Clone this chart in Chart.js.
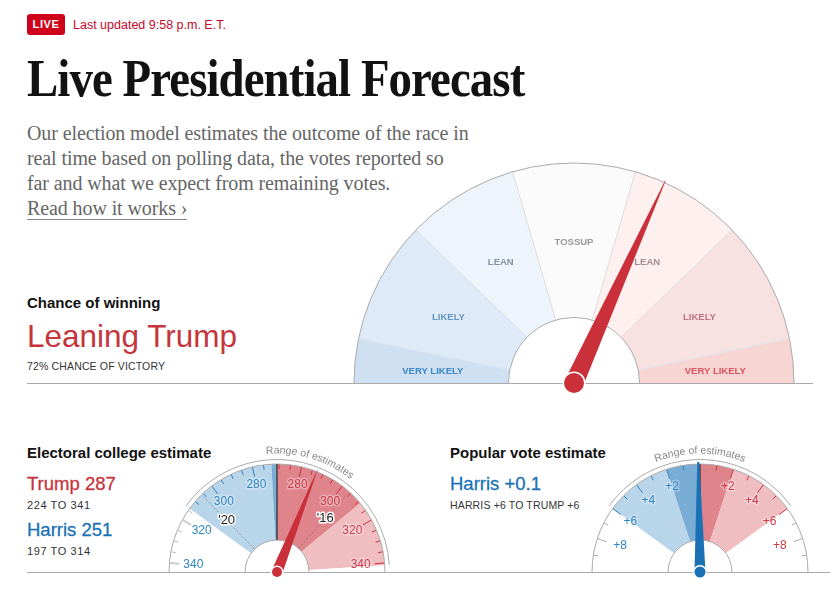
<!DOCTYPE html>
<html lang="en">
<head>
<meta charset="UTF-8">
<title>Live Presidential Forecast</title>
<script src="https://cdn.jsdelivr.net/npm/chart.js"></script>
<style>
    body { margin: 0; background: #fff; width: 830px; height: 604px; position: relative; overflow: hidden; font-family: 'Liberation Sans', sans-serif; }
    .t { position: absolute; white-space: nowrap; }
    canvas { position: absolute; }
    .rule { position: absolute; height: 1px; background: #aaa; }
    .badge { left: 27px; top: 14px; width: 38px; height: 21px; border-radius: 3px; background: #d0021b; color: #fff; font: bold 11px/21px 'Liberation Sans'; text-align: center; letter-spacing: .6px; }
    .updated { left: 73px; top: 17px; font-size: 12.5px; line-height: 16px; color: #c4082a; }
    h1 { margin: 0; left: 27px; top: 49px; font: bold 52px/60px 'Liberation Serif', serif; color: #121212; letter-spacing: -1px; transform: scaleX(.9); transform-origin: left center; }
    .intro { left: 27px; font: 20px/25px 'Liberation Serif', serif; color: #666; letter-spacing: -.1px; }
    .intro a { color: #666; text-decoration: none; border-bottom: 1px solid #888; }
    h2 { margin: 0; font: bold 15px/20px 'Liberation Sans'; color: #121212; }
    .big { left: 27px; font-size: 31.5px; line-height: 38px; color: #c4353c; }
    .mid { font-size: 18.5px; line-height: 24px; -webkit-text-stroke: .3px currentColor; }
    .small { font-size: 10.5px; line-height: 14px; color: #333; letter-spacing: .15px; }
    .nums { letter-spacing: .6px; font-size: 11px; }
    .red { color: #c4353c; }
    .blue { color: #1a72b5; }
</style>
</head>
<body>
<div class="t badge">LIVE</div>
<div class="t updated">Last updated 9:58 p.m. E.T.</div>
<h1 class="t">Live Presidential Forecast</h1>
<div class="t intro" style="top:121px">Our election model estimates the outcome of the race in</div>
<div class="t intro" style="top:146px">real time based on polling data, the votes reported so</div>
<div class="t intro" style="top:171px">far and what we expect from remaining votes.</div>
<div class="t intro" style="top:196px"><a>Read how it works ›</a></div>

<h2 class="t" style="left:27px;top:293px">Chance of winning</h2>
<div class="t big" style="top:317px">Leaning Trump</div>
<div class="t small" style="left:27px;top:359px">72% CHANCE OF VICTORY</div>
<div class="rule" style="left:27px;top:383px;width:786px"></div>

<h2 class="t" style="left:27px;top:443px">Electoral college estimate</h2>
<div class="t mid red" style="left:27px;top:472px">Trump 287</div>
<div class="t small nums" style="left:27px;top:498px">224 TO 341</div>
<div class="t mid blue" style="left:27px;top:518px">Harris 251</div>
<div class="t small nums" style="left:27px;top:544px">197 TO 314</div>

<h2 class="t" style="left:450px;top:443px">Popular vote estimate</h2>
<div class="t mid blue" style="left:450px;top:472px">Harris +0.1</div>
<div class="t small" style="left:450px;top:498px">HARRIS +6 TO TRUMP +6</div>
<div class="rule" style="left:27px;top:572px;width:803px"></div>

<canvas id="chanceGauge" width="480" height="250" style="left:340px;top:149px"></canvas>
<canvas id="electoralGauge" width="250" height="150" style="left:152px;top:435px"></canvas>
<canvas id="popularGauge" width="250" height="150" style="left:575px;top:435px"></canvas>

<script>
    // chance of winning dial, 0-100 across the half circle
    const chanceEdges = [0, 6.5, 24.5, 41, 59, 75.5, 93.5, 100];
    const chanceLabels = ['VERY LIKELY', 'LIKELY', 'LEAN', 'TOSSUP', 'LEAN', 'LIKELY', 'VERY LIKELY'];
    const chanceColors = ['#cee0f1', '#deeaf7', '#eef4fb', '#fbfbfb', '#fdf0ef', '#f7e1e1', '#f7d5d3'];
    const chanceTextColors = ['#3c87c6', '#6496c5', '#8193a6', '#999999', '#a58a92', '#c4707f', '#d9545f'];
    const chanceNeedle = 63.5;

    // electoral dial runs on Trump's electoral votes, tie = 269
    const totalVotes = 538;
    const electoralEdges = [194, 224, 266.5, 269, 311, 341, 344];
    const electoralNeedle = 287;
    const trumpTicks = [270, 275, 280, 285, 290, 295, 300, 305, 310, 315, 320, 325, 330, 335, 340];
    const harrisTicks = [275, 280, 285, 290, 295, 300, 305, 310, 315, 320, 325, 330, 335, 340];
    const electoralLabels = [280, 300, 320, 340];
    const pastHarris = 306;   // '20
    const pastTrump = 304;    // '16

    // popular vote dial, negative = Harris margin, positive = Trump margin
    const popularEdges = [-10, -6, -2, 0, 2, 6, 10];
    const popularNeedle = -0.1;
    const popularTicks = [1, 2, 3, 4, 5, 6, 7, 8, 9];
    const popularLabels = [2, 4, 6, 8];

    const rangeColors = ['#ffffff', '#b9d5ea', '#79add5', '#e0848c', '#f0bdc1', '#ffffff'];
    const BLUE = '#2f86c4', RED = '#cb3a46';
    const LABEL_FONT = "12px 'Liberation Sans'";
    const LABEL_RADII = [90, 88, 86, 84];

    function sizes(edges) {
        return edges.slice(1).map((e, i) => e - edges[i]);
    }

    // turn a dial value into a point using the doughnut's own arcs
    function dial(chart, min, max) {
        const arcs = chart.getDatasetMeta(0).data;
        const first = arcs[0], last = arcs[arcs.length - 1];
        const angle = v => first.startAngle + (v - min) / (max - min) * (last.endAngle - first.startAngle);
        return {
            x: first.x, y: first.y, r: first.outerRadius, inner: first.innerRadius, angle,
            at: (v, radius) => [first.x + Math.cos(angle(v)) * radius, first.y + Math.sin(angle(v)) * radius]
        };
    }

    function rim(ctx, d, color) {
        ctx.strokeStyle = color;
        ctx.lineWidth = 1;
        ctx.beginPath();
        ctx.arc(d.x, d.y, d.r, Math.PI, 0);
        ctx.stroke();
        ctx.beginPath();
        ctx.arc(d.x, d.y, d.inner, Math.PI, 0);
        ctx.stroke();
    }

    function needle(ctx, d, value, color, halfWidth, dot, tipWidth) {
        const a = d.angle(value);
        const tip = d.at(value, d.r + 2);
        const nx = -Math.sin(a), ny = Math.cos(a);
        ctx.fillStyle = color;
        ctx.beginPath();
        ctx.moveTo(tip[0] + nx * tipWidth, tip[1] + ny * tipWidth);
        ctx.lineTo(d.x + nx * halfWidth, d.y + ny * halfWidth);
        ctx.lineTo(d.x - nx * halfWidth, d.y - ny * halfWidth);
        ctx.lineTo(tip[0] - nx * tipWidth, tip[1] - ny * tipWidth);
        ctx.closePath();
        ctx.fill();
        ctx.fillStyle = '#fff';
        ctx.beginPath();
        ctx.arc(d.x, d.y, dot + 1.5, 0, Math.PI * 2);
        ctx.fill();
        ctx.fillStyle = color;
        ctx.beginPath();
        ctx.arc(d.x, d.y, dot, 0, Math.PI * 2);
        ctx.fill();
    }

    function tick(ctx, d, value, long, color, width) {
        const from = d.at(value, d.r - 0.5), to = d.at(value, d.r - (long ? 10 : 5));
        ctx.strokeStyle = color;
        ctx.lineWidth = width || 1;
        ctx.beginPath();
        ctx.moveTo(from[0], from[1]);
        ctx.lineTo(to[0], to[1]);
        ctx.stroke();
    }

    function label(ctx, text, x, y, color, font, halo) {
        ctx.font = font;
        ctx.textAlign = 'center';
        ctx.textBaseline = 'middle';
        if (halo) {
            ctx.strokeStyle = halo;
            ctx.lineWidth = 3;
            ctx.lineJoin = 'round';
            ctx.strokeText(text, x, y);
        }
        ctx.fillStyle = color;
        ctx.fillText(text, x, y);
    }

    // grey bracket plus the curved caption that marks the range of estimates
    function rangeArc(ctx, d, from, to, midDeg) {
        ctx.strokeStyle = '#aaa';
        ctx.lineWidth = 1;
        ctx.beginPath();
        ctx.arc(d.x, d.y, d.r + 4.5, d.angle(from), d.angle(to));
        ctx.stroke();
        const text = 'Range of estimates';
        const radius = d.r + 10.5;
        ctx.font = "10.5px 'Liberation Sans'";
        ctx.fillStyle = '#888';
        ctx.textAlign = 'left';
        ctx.textBaseline = 'alphabetic';
        const total = ctx.measureText(text).width;
        let a = (midDeg - 90) * Math.PI / 180 - total / 2 / radius;
        for (const ch of text) {
            const w = ctx.measureText(ch).width;
            a += w / 2 / radius;
            ctx.save();
            ctx.translate(d.x + Math.cos(a) * radius, d.y + Math.sin(a) * radius);
            ctx.rotate(a + Math.PI / 2);
            ctx.fillText(ch, -w / 2, 0);
            ctx.restore();
            a += w / 2 / radius;
        }
    }

    function pastLine(ctx, d, value) {
        const a = d.at(value, d.inner), b = d.at(value, d.r - 3);
        ctx.strokeStyle = 'rgba(90,90,90,.5)';
        ctx.lineWidth = 1;
        ctx.setLineDash([2, 2]);
        ctx.beginPath();
        ctx.moveTo(a[0], a[1]);
        ctx.lineTo(b[0], b[1]);
        ctx.stroke();
        ctx.setLineDash([]);
    }

    function centerLine(ctx, d, value) {
        const a = d.at(value, d.inner), b = d.at(value, d.r);
        ctx.strokeStyle = '#111';
        ctx.lineWidth = 1;
        ctx.beginPath();
        ctx.moveTo(a[0], a[1]);
        ctx.lineTo(b[0], b[1]);
        ctx.stroke();
    }

    function gauge(id, edges, colors, cutout, padding, draw) {
        return new Chart(document.getElementById(id), {
            type: 'doughnut',
            data: {
                labels: colors.map((c, i) => String(i)),
                datasets: [{ data: sizes(edges), backgroundColor: colors, borderWidth: 0 }]
            },
            options: {
                responsive: false,
                animation: false,
                rotation: -90,
                circumference: 180,
                cutout: cutout,
                layout: { padding: padding },
                events: [],
                plugins: { legend: { display: false }, tooltip: { enabled: false } }
            },
            plugins: [{ id: 'dial', afterDatasetsDraw: draw }]
        });
    }

    gauge('chanceGauge', chanceEdges, chanceColors, '29.8%', { left: 14, right: 26, top: 14, bottom: 16 }, chart => {
        const ctx = chart.ctx;
        const d = dial(chart, chanceEdges[0], chanceEdges[chanceEdges.length - 1]);
        ctx.save();
        // thin separators between the bands
        chanceEdges.slice(1, -1).forEach((e, i) => {
            const a = d.at(e, d.inner), b = d.at(e, d.r);
            ctx.strokeStyle = i === 0 || i === 5 ? '#dde6ee' : '#dddddd';
            ctx.lineWidth = 1;
            ctx.beginPath();
            ctx.moveTo(a[0], a[1]);
            ctx.lineTo(b[0], b[1]);
            ctx.stroke();
        });
        rim(ctx, d, '#aaaaaa');
        chanceLabels.forEach((text, i) => {
            const p = d.at((chanceEdges[i] + chanceEdges[i + 1]) / 2, 142);
            const drop = i === 0 || i === 6 ? 3 : 1;
            label(ctx, text, p[0], p[1] + drop, chanceTextColors[i], "bold 9.5px 'Liberation Sans'");
        });
        needle(ctx, d, chanceNeedle, '#c9303a', 9.5, 10, 0.3);
        ctx.restore();
    });

    gauge('electoralGauge', electoralEdges, rangeColors, '29.6%', { left: 17, right: 17, top: 29, bottom: 13 }, chart => {
        const ctx = chart.ctx;
        const d = dial(chart, electoralEdges[0], electoralEdges[electoralEdges.length - 1]);
        const low = electoralEdges[1], high = electoralEdges[5];
        ctx.save();
        rim(ctx, d, '#aaaaaa');
        trumpTicks.forEach(v => tick(ctx, d, v, electoralLabels.includes(v), v <= high ? '#c8323e' : '#bbbbbb'));
        harrisTicks.forEach(v => {
            const pos = totalVotes - v;
            const long = electoralLabels.includes(v);
            if (pos >= low) tick(ctx, d, pos, long, '#2f7fb9');
            else tick(ctx, d, pos, long, long ? '#cccccc' : '#bbbbbb', long ? 2 : 1);
        });
        centerLine(ctx, d, electoralEdges[3]);
        pastLine(ctx, d, totalVotes - pastHarris);
        pastLine(ctx, d, pastTrump);
        electoralLabels.forEach((v, i) => {
            const l = d.at(totalVotes - v, LABEL_RADII[i]), r = d.at(v, LABEL_RADII[i]);
            label(ctx, String(v), l[0], l[1], BLUE, LABEL_FONT, 'rgba(255,255,255,.3)');
            label(ctx, String(v), r[0], r[1], RED, LABEL_FONT, 'rgba(255,255,255,.3)');
        });
        const p20 = d.at(totalVotes - pastHarris, 72), p16 = d.at(pastTrump, 72);
        label(ctx, "'20", p20[0], p20[1], '#222', "13px 'Liberation Sans'", '#fff');
        label(ctx, "'16", p16[0], p16[1], '#222', "13px 'Liberation Sans'", '#fff');
        rangeArc(ctx, d, low, high, 16.6);
        needle(ctx, d, electoralNeedle, '#c9303a', 5.5, 5, 0.2);
        ctx.restore();
    });

    gauge('popularGauge', popularEdges, rangeColors, '29.6%', { left: 17, right: 17, top: 29, bottom: 13 }, chart => {
        const ctx = chart.ctx;
        const d = dial(chart, popularEdges[0], popularEdges[popularEdges.length - 1]);
        const low = popularEdges[1], high = popularEdges[5];
        ctx.save();
        rim(ctx, d, '#aaaaaa');
        popularTicks.forEach(v => {
            const long = popularLabels.includes(v);
            tick(ctx, d, -v, long, -v >= low ? '#2f7fb9' : '#aaaaaa');
            tick(ctx, d, v, long, v <= high ? '#c8323e' : '#aaaaaa');
        });
        centerLine(ctx, d, 0);
        popularLabels.forEach((v, i) => {
            const l = d.at(-v, LABEL_RADII[i]), r = d.at(v, LABEL_RADII[i]);
            label(ctx, '+' + v, l[0], l[1], BLUE, LABEL_FONT, 'rgba(255,255,255,.3)');
            label(ctx, '+' + v, r[0], r[1], RED, LABEL_FONT, 'rgba(255,255,255,.3)');
        });
        rangeArc(ctx, d, low, high, 0);
        needle(ctx, d, popularNeedle, '#1a72b5', 5.5, 5.5, 1);
        ctx.restore();
    });
</script>
</body>
</html>
